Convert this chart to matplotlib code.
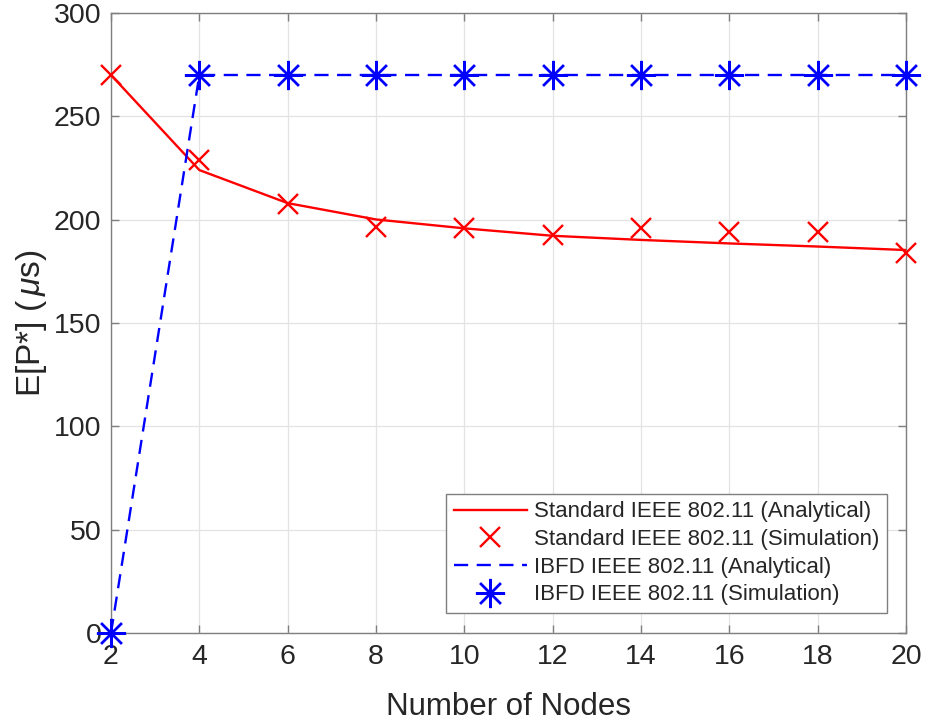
import matplotlib
matplotlib.use("Agg")
import matplotlib.pyplot as plt

plt.rcParams['font.family'] = ['Liberation Sans', 'DejaVu Sans']
plt.rcParams['mathtext.fontset'] = 'custom'
plt.rcParams['mathtext.it'] = 'Liberation Sans:italic'
plt.rcParams['mathtext.rm'] = 'Liberation Sans'

# Number of nodes
nodes = [2, 4, 6, 8, 10, 12, 14, 16, 18, 20]

# Expected delay E[P*] in microseconds
std_analytical = [270, 224, 208, 200.1, 195.8, 192.2, 190.2, 188.5, 187.0, 185.3]
std_simulation = [270, 228.8, 207.5, 196.6, 196.0, 192.6, 195.8, 194.2, 194.2, 183.7]
ibfd_analytical = [0, 270, 270, 270, 270, 270, 270, 270, 270, 270]
ibfd_simulation = [0, 270, 270, 270, 270, 270, 270, 270, 270, 270]

xticks = [2, 4, 6, 8, 10, 12, 14, 16, 18, 20]
yticks = [0, 50, 100, 150, 200, 250, 300]

text_col = '#262626'
axis_col = '#7f7f7f'

fig = plt.figure(figsize=(9.27, 7.25), dpi=100)
ax = fig.add_axes([111 / 927, 92 / 725, 795 / 927, 620 / 725])

ax.plot(nodes, std_analytical, color='#ff0000', lw=1.7,
        label='Standard IEEE 802.11 (Analytical)', zorder=3)
ax.plot(nodes, std_simulation, ls='none', marker='x', ms=15, mew=1.7,
        color='#ff0000', label='Standard IEEE 802.11 (Simulation)',
        clip_on=False, zorder=4)
ax.plot(nodes, ibfd_analytical, color='#0000ff', lw=1.7, ls=(0, (6, 3.6)),
        label='IBFD IEEE 802.11 (Analytical)', zorder=3)
ax.plot(nodes, ibfd_simulation, ls='none', marker=(8, 2, 0), ms=21, mew=1.7,
        color='#0000ff', label='IBFD IEEE 802.11 (Simulation)',
        clip_on=False, zorder=4)

ax.set_xlim(2, 20)
ax.set_ylim(0, 300)
ax.set_xticks(xticks)
ax.set_yticks(yticks)
ax.grid(True, color='#e3e3e3', lw=0.9, zorder=0)
ax.set_axisbelow(True)

for s in ax.spines.values():
    s.set_color(axis_col)
    s.set_linewidth(1.0)

ax.tick_params(direction='in', length=6, width=1.0, color=axis_col,
               labelsize=20.5, labelcolor=text_col, top=True, right=True,
               pad=7)
ax.tick_params(axis='x', pad=8)

ax.set_xlabel('Number of Nodes', fontsize=22.5, color=text_col, labelpad=16)
ax.set_ylabel(r'E[P*] ($\,\mu$s)', fontsize=24, color=text_col, labelpad=3)

leg = ax.legend(loc='lower right', bbox_to_anchor=(0.976, 0.032),
                borderaxespad=0, fontsize=16, fancybox=False,
                framealpha=1, edgecolor=axis_col, handlelength=3.3,
                handletextpad=0.3, labelspacing=0.3, borderpad=0.35)
leg.get_frame().set_linewidth(1.0)
for t in leg.get_texts():
    t.set_color(text_col)

fig.savefig('out.png', dpi=100)
